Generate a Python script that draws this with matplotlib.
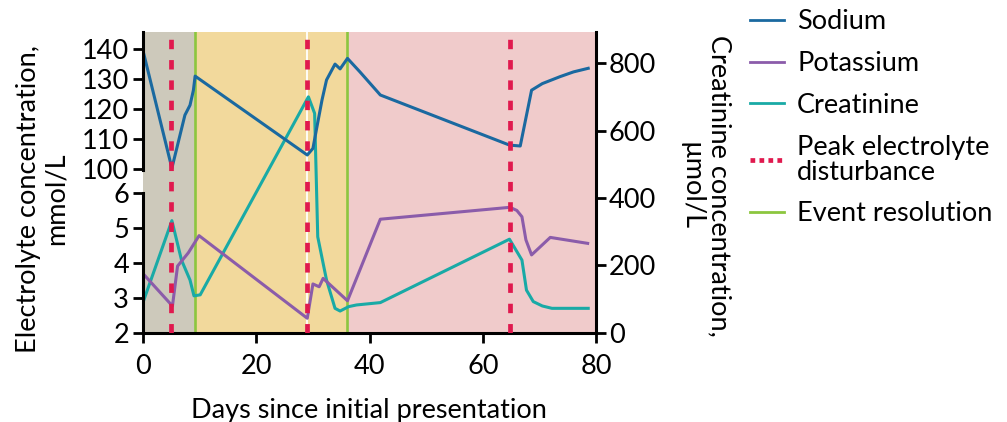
import matplotlib
matplotlib.use("Agg")
import matplotlib.pyplot as plt
from matplotlib.lines import Line2D

plt.rcParams['font.family'] = ['Lato', 'DejaVu Sans']

# sodium, mmol/L
na_days = [0, 5.1, 7.4, 8.3, 8.9, 9.2, 29.0, 30.0, 30.7, 31.6, 32.4, 33.9, 34.8, 36.1,
           38.3, 41.9, 64.7, 66.6, 68.6, 70.5, 73.6, 76.0, 78.6]
na_vals = [139.5, 100.3, 118, 121.3, 126.3, 131, 104.7, 106.9, 114, 123, 129.7, 135, 133.4, 136.9,
           132.4, 124.7, 108, 107.7, 126.3, 128.5, 130.8, 132.4, 133.6]

# potassium, mmol/L
k_days = [0.2, 5.2, 6.1, 8.0, 9.9, 29.0, 30.0, 31.1, 31.8, 36.1, 41.9, 64.8, 66.0, 66.9,
          67.6, 68.6, 71.9, 78.5]
k_vals = [3.66, 2.77, 3.91, 4.29, 4.78, 2.42, 3.4, 3.32, 3.56, 2.92, 5.25, 5.59, 5.5, 5.32,
          4.66, 4.23, 4.73, 4.56]

# creatinine, umol/L
cr_days = [0.2, 5.1, 6.8, 8.3, 9.0, 10.1, 29.2, 30.3, 30.85, 32.4, 33.9, 34.8, 36.3, 37.7,
           41.9, 64.7, 66.9, 67.7, 68.9, 70.5, 72.2, 78.6]
cr_vals = [100, 333, 216, 157, 110, 113, 700, 651, 285, 157, 73, 65, 78, 83,
           90, 278, 216, 127, 93, 80, 73, 73]

peaks = [5.0, 29.0, 64.8]
resolutions = [9.2, 36.1]
phases = [(0, 9.2, '#cdc9bb'), (9.2, 36.1, '#f2d99c'), (36.1, 80, '#f0cbcb')]

c_na = '#1a69a0'
c_k = '#8b5caa'
c_cr = '#19aaa6'
c_peak = '#e0194e'
c_res = '#8cc63f'

fs = 19.5

fig = plt.figure(figsize=(10.07, 4.22), dpi=100)
left, width = 0.142, 0.450
bot, top = 0.211, 0.924

# full height axes: phases + creatinine (right axis)
ax_bg = fig.add_axes([left, bot, width, top - bot])
ax_bg.set_xlim(0, 80)
ax_bg.set_ylim(0, 892)
for a, b, c in phases:
    ax_bg.axvspan(a, b, color=c, lw=0, zorder=0)
ax_bg.axvline(29.0, color='white', lw=1.3, zorder=1)
for r in resolutions:
    ax_bg.axvline(r, color=c_res, lw=1.9, zorder=2)
ax_bg.plot(cr_days, cr_vals, color=c_cr, lw=2.2, zorder=3)
ax_bg.yaxis.tick_right()
ax_bg.set_yticks([0, 200, 400, 600, 800])
ax_bg.set_xticks([])
for s in ['left', 'top', 'bottom']:
    ax_bg.spines[s].set_visible(False)
ax_bg.spines['right'].set_linewidth(2.2)
ax_bg.tick_params(axis='y', length=7, width=2, labelsize=fs, pad=2)

# sodium axis (upper)
ax_na = fig.add_axes([left, 1 - 170 / 422, width, 138 / 422])
ax_na.patch.set_alpha(0)
ax_na.set_xlim(0, 80)
ax_na.set_ylim(99.7, 145.7)
ax_na.plot(na_days, na_vals, color=c_na, lw=2.2)
ax_na.set_yticks([100, 110, 120, 130, 140])
ax_na.set_xticks([])
for s in ['right', 'top', 'bottom']:
    ax_na.spines[s].set_visible(False)
ax_na.spines['left'].set_linewidth(2.2)
ax_na.tick_params(axis='y', length=7, width=2, labelsize=fs, pad=3)

# potassium axis (lower)
ax_k = fig.add_axes([left, bot, width, 140 / 422])
ax_k.patch.set_alpha(0)
ax_k.set_xlim(0, 80)
ax_k.set_ylim(2, 6)
ax_k.plot(k_days, k_vals, color=c_k, lw=2.2)
ax_k.set_yticks([2, 3, 4, 5, 6])
ax_k.set_xticks([0, 20, 40, 60, 80])
for s in ['right', 'top']:
    ax_k.spines[s].set_visible(False)
ax_k.spines['left'].set_linewidth(2.2)
ax_k.spines['bottom'].set_linewidth(2.2)
ax_k.tick_params(axis='both', length=7, width=2, labelsize=fs, pad=3)
ax_k.tick_params(axis='x', pad=8)

# overlay for peak markers
ax_ov = fig.add_axes([left, bot, width, top - bot])
ax_ov.set_xlim(0, 80)
ax_ov.set_ylim(0, 1)
ax_ov.axis('off')
for p in peaks:
    ax_ov.axvline(p, color=c_peak, lw=3.4, linestyle=(0, (2.0, 2.3)))

fig.text(0.042, 0.528, 'Electrolyte concentration,\nmmol/L', rotation=90,
         ha='center', va='center', multialignment='center', fontsize=fs, linespacing=1.1)
fig.text(0.700, 0.56, 'Creatinine concentration,\n\u00b5mol/L', rotation=270,
         ha='center', va='center', multialignment='center', fontsize=fs, linespacing=1.15)
fig.text(0.366, 0.027, 'Days since initial presentation', ha='center', va='center', fontsize=fs)

handles = [Line2D([], [], color=c_na, lw=2),
           Line2D([], [], color=c_k, lw=2),
           Line2D([], [], color=c_cr, lw=2),
           Line2D([], [], color=c_peak, lw=3.4, linestyle=(0, (1.0, 0.9))),
           Line2D([], [], color=c_res, lw=2)]
labels = ['Sodium', 'Potassium', 'Creatinine', 'Peak electrolyte\ndisturbance', 'Event resolution']
leg = fig.legend(handles, labels, loc='upper left', bbox_to_anchor=(0.745, 0.978), frameon=False,
                 fontsize=fs, handlelength=1.25, handletextpad=0.48, labelspacing=0.62,
                 borderpad=0, borderaxespad=0)
for t in leg.get_texts():
    t.set_linespacing(1.0)

fig.savefig('out.png', dpi=100)
